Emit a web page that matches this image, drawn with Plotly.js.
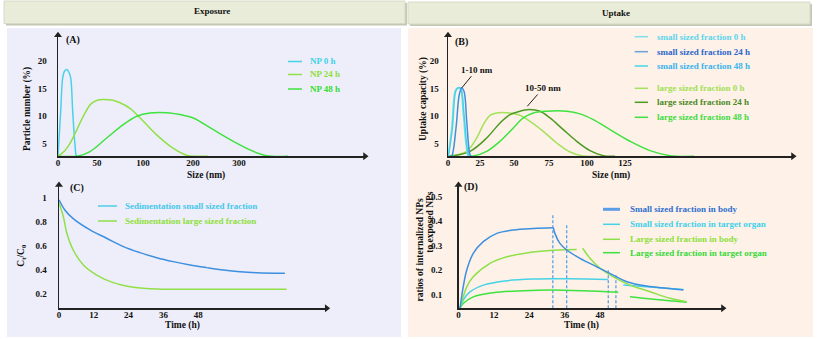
<!DOCTYPE html>
<html>
<head>
<meta charset="utf-8">
<script src="https://cdn.plot.ly/plotly-3.0.1.min.js"></script>
<style>html,body{margin:0;padding:0;background:#fff;} #chart{width:817px;height:339px;}</style>
</head>
<body>
<div id="chart"></div>
<script>
// (A) particle number vs size -- x is the position on the hand drawn size axis
var sizeTickPosA = [0, 39, 85, 135, 181];
var sizeTickTextA = ['0', '50', '100', '200', '300'];
var np0hX = [0, 0.7, 2.7, 4.7, 6.5, 8.7, 11, 12.7, 14.7, 17, 18.7, 21];
var np0hY = [2.75, 4.8, 10.9, 16.9, 18.1, 18.4, 17.9, 16.9, 10.9, 4.8, 2.75, 2.75];
var np24hX = [0, 7, 13, 19, 26, 33, 40, 45, 55, 62, 72, 82, 98.7, 115, 129, 140, 150];
var np24hY = [2.75, 3.8, 5.4, 7.6, 10.2, 12.2, 12.9, 13.0, 12.85, 12.4, 11.4, 9.7, 6.6, 4.2, 2.9, 2.75, 2.75];
var np48hX = [0, 20, 32, 48.7, 65.3, 78.7, 92, 108.7, 125.3, 135.3, 155.3, 175.3, 195.3, 208.7, 230];
var np48hY = [2.75, 2.8, 3.6, 6.05, 8.45, 9.96, 10.56, 10.6, 10.14, 9.66, 7.55, 5.45, 3.64, 2.85, 2.75];

// (B) uptake capacity vs size
var sizeTickPosB = [0, 32, 66, 101, 139, 177];
var sizeTickTextB = ['0', '25', '50', '75', '100', '125'];
var small0hX = [0, 3.7, 7, 9.3, 12, 15.3, 18, 20.3, 22];
var small0hY = [2.75, 7.85, 14.5, 15.07, 15.07, 10.3, 4.9, 2.75, 2.75];
var small24hX = [2, 3.7, 8, 11.3, 13.7, 16, 18.7, 21.3, 22.7, 24];
var small24hY = [2.75, 2.8, 7.85, 13.9, 15.07, 14.5, 9.06, 3.64, 2.75, 2.75];
var small48hX = [0.5, 4.4, 7.7, 10, 12.7, 16, 18.7, 21, 22.5];
var small48hY = [2.75, 7.85, 14.5, 15.07, 15.0, 10.3, 4.9, 2.75, 2.75];
var large0hX = [0, 18.7, 28.7, 35.3, 42, 48.7, 62, 72, 82, 95.3, 108.7, 122, 135.3, 150];
var large0hY = [2.75, 3.64, 6.05, 8.45, 10.14, 10.56, 10.56, 10.14, 9.06, 7.25, 5.14, 3.52, 2.8, 2.75];
var large24hX = [2, 22, 38.7, 52, 62, 72, 79.3, 92, 102, 115.3, 128.7, 142, 155.3, 167];
var large24hY = [2.75, 3.64, 6.05, 8.75, 10.25, 10.87, 11.16, 10.87, 9.66, 7.55, 5.45, 3.76, 2.85, 2.75];
var large48hX = [0, 25.3, 38.7, 52, 65.3, 75.3, 85.3, 98.7, 118.7, 132, 145.3, 162, 182, 202, 222, 246];
var large48hY = [2.75, 2.8, 3.64, 5.45, 7.85, 9.66, 10.56, 10.87, 10.87, 10.4, 9.36, 7.55, 5.45, 3.76, 2.85, 2.75];

// (C) sedimentation, Ct/C0 vs time (h)
var sedSmallT = [0, 2.07, 4.9, 10.7, 16.4, 22.2, 27.9, 33.7, 39.4, 45.2, 50.9, 56.7, 62.4, 68.2, 77.9];
var sedSmallC = [0.986, 0.90, 0.83, 0.736, 0.667, 0.597, 0.547, 0.505, 0.472, 0.444, 0.422, 0.402, 0.388, 0.38, 0.375];
var sedLargeT = [0, 1.5, 2.7, 4.9, 8.4, 13, 18.7, 24.5, 30.2, 36, 50, 65, 78.5];
var sedLargeC = [0.96, 0.847, 0.708, 0.569, 0.444, 0.36, 0.297, 0.263, 0.247, 0.242, 0.242, 0.242, 0.242];

// (D) ratios of internalized NPs to exposed NPs vs time (h)
var smallBodyRiseT = [0.5, 1.6, 2.8, 5, 8.4, 13, 18.6, 25.4, 32.2];
var smallBodyRiseV = [0.043, 0.131, 0.2, 0.268, 0.316, 0.35, 0.364, 0.37, 0.373];
var smallBodyDropT = [32.2, 32.7, 34.4, 36.7, 41.2, 46.9, 52.5, 57.1, 63.8, 70.6, 76.3];
var smallBodyDropV = [0.373, 0.35, 0.309, 0.282, 0.248, 0.213, 0.179, 0.152, 0.134, 0.125, 0.118];
var smallOrganRiseT = [0.5, 1.6, 3.9, 8.4, 16.4, 25.4, 34.4, 43.5, 50.8];
var smallOrganRiseV = [0.043, 0.077, 0.11, 0.138, 0.156, 0.163, 0.164, 0.163, 0.161];
var smallOrganDropT = [55.9, 66.1, 76.3];
var smallOrganDropV = [0.138, 0.129, 0.12];
var largeBodyRiseT = [0.5, 2.8, 5, 10.7, 16.4, 23.1, 29.9, 36.7, 40.1];
var largeBodyRiseV = [0.043, 0.131, 0.172, 0.227, 0.254, 0.27, 0.279, 0.283, 0.284];
var largeBodyDropT = [42.1, 44.6, 48, 52.5, 58.2, 65, 71.7, 77.4];
var largeBodyDropV = [0.289, 0.248, 0.207, 0.172, 0.138, 0.111, 0.084, 0.07];
var largeOrganRiseT = [0.5, 1.6, 5, 11.8, 22, 31, 42.3, 54.2];
var largeOrganRiseV = [0.043, 0.063, 0.09, 0.107, 0.115, 0.118, 0.115, 0.109];
var largeOrganDropT = [58.2, 66.1, 77.4];
var largeOrganDropV = [0.09, 0.08, 0.068];
var switchTimes = [32, 36.7, 50.8, 53.4];
var switchTops = [0.432, 0.391, 0.2, 0.186];

var W = 817, H = 339;
var serif = 'Liberation Serif';
var cCyan = '#47d3e6', cYellowGreen = '#90e048', cGreen = '#3fe23f', cBlue = '#3d8fe0';
var cLightCyan = '#7fe0ec', cDarkGreen = '#4f9a22', cLightGreen = '#a4e25c';

function px(x) { return x / W; }
function py(y) { return 1 - y / H; }

function xAx(ox, ppu, r, tv, tt, anchor) {
  return {
    domain: [ox / W, (ox + (r[1] - r[0]) * ppu) / W], range: r, anchor: anchor,
    showgrid: false, zeroline: false, fixedrange: true,
    showline: true, linecolor: '#222', linewidth: 1.5,
    tickmode: 'array', tickvals: tv, ticktext: tt, ticks: '', ticklabelstandoff: -3,
    tickfont: {family: serif, size: 9, color: '#111', weight: 'bold'}
  };
}
function yAx(oy, ppu, r, tv, tt, anchor, tl) {
  return {
    domain: [1 - oy / H, 1 - (oy - (r[1] - r[0]) * ppu) / H], range: r, anchor: anchor,
    showgrid: false, zeroline: false, fixedrange: true,
    showline: true, linecolor: '#222', linewidth: 1.5,
    tickmode: 'array', tickvals: tv, ticktext: tt,
    ticks: 'outside', ticklen: tl, tickcolor: 'rgba(0,0,0,0)',
    tickfont: {family: serif, size: 9, color: '#111', weight: 'bold'}
  };
}

function curve(x, y, color, xa, ya, w) {
  return {x: x, y: y, xaxis: xa, yaxis: ya, mode: 'lines', hoverinfo: 'skip',
    line: {color: color, width: w || 1.5, shape: 'spline', smoothing: 1}};
}
// arrowheads at the ends of both axes of a panel
function heads(xa, ya, xr, yr) {
  return {x: [xr[1], xr[0]], y: [yr[0], yr[1]], xaxis: xa, yaxis: ya, mode: 'markers',
    hoverinfo: 'skip', cliponaxis: false,
    marker: {symbol: ['triangle-right', 'triangle-up'], size: 7, color: '#222'}};
}

var rangeXA = [0, 307], rangeYA = [2.74, 24.6];
var rangeXB = [0, 345], rangeYB = [2.74, 24.6];
var rangeXC = [0, 92.3], rangeYC = [0.083, 1.11];
var rangeXD = [0, 89.7], rangeYD = [0.043, 0.548];

var dashX = [], dashY = [];
switchTimes.forEach(function(t, i) {
  dashX.push(t, t, null);
  dashY.push(rangeYD[0], switchTops[i], null);
});

var data = [
  curve(np0hX, np0hY, cCyan, 'x', 'y'),
  curve(np24hX, np24hY, cYellowGreen, 'x', 'y'),
  curve(np48hX, np48hY, cGreen, 'x', 'y'),

  curve(large0hX, large0hY, cLightGreen, 'x2', 'y2'),
  curve(large24hX, large24hY, cDarkGreen, 'x2', 'y2'),
  curve(large48hX, large48hY, cGreen, 'x2', 'y2'),
  curve(small0hX, small0hY, cLightCyan, 'x2', 'y2'),
  curve(small48hX, small48hY, cCyan, 'x2', 'y2'),
  curve(small24hX, small24hY, cBlue, 'x2', 'y2'),

  curve(sedSmallT, sedSmallC, cBlue, 'x3', 'y3'),
  curve(sedLargeT, sedLargeC, cYellowGreen, 'x3', 'y3'),

  {x: dashX, y: dashY, xaxis: 'x4', yaxis: 'y4', mode: 'lines', hoverinfo: 'skip',
    line: {color: '#4a9ae6', width: 1.2, dash: '3px,2px'}},
  curve(largeOrganRiseT, largeOrganRiseV, cGreen, 'x4', 'y4'),
  curve(largeOrganDropT, largeOrganDropV, cGreen, 'x4', 'y4'),
  curve(smallOrganRiseT, smallOrganRiseV, cCyan, 'x4', 'y4'),
  curve(smallOrganDropT, smallOrganDropV, cCyan, 'x4', 'y4'),
  curve(largeBodyRiseT, largeBodyRiseV, cYellowGreen, 'x4', 'y4'),
  curve(largeBodyDropT, largeBodyDropV, cYellowGreen, 'x4', 'y4'),
  curve(smallBodyRiseT, smallBodyRiseV, cBlue, 'x4', 'y4'),
  curve(smallBodyDropT, smallBodyDropV, cBlue, 'x4', 'y4'),

  heads('x', 'y', rangeXA, rangeYA),
  heads('x2', 'y2', rangeXB, rangeYB),
  heads('x3', 'y3', rangeXC, rangeYC),
  heads('x4', 'y4', rangeXD, rangeYD)
];

var shapes = [
  // panel backgrounds
  {type: 'rect', xref: 'paper', yref: 'paper', x0: px(7), x1: px(401), y0: py(337), y1: py(28), fillcolor: '#eeeefa', line: {width: 0}, layer: 'below'},
  {type: 'rect', xref: 'paper', yref: 'paper', x0: px(408), x1: px(813), y0: py(337), y1: py(28), fillcolor: '#fdf1e8', line: {width: 0}, layer: 'below'},
  // header bars with shadow
  {type: 'rect', xref: 'paper', yref: 'paper', x0: px(6), x1: px(407), y0: py(25.5), y1: py(3), fillcolor: '#c4c7b4', line: {width: 0}, layer: 'below'},
  {type: 'rect', xref: 'paper', yref: 'paper', x0: px(4), x1: px(405), y0: py(23.5), y1: py(1), fillcolor: '#e9ecd8', line: {color: '#d6d9c6', width: 1}, layer: 'below'},
  {type: 'rect', xref: 'paper', yref: 'paper', x0: px(410), x1: px(812), y0: py(26), y1: py(4), fillcolor: '#c4c7b4', line: {width: 0}, layer: 'below'},
  {type: 'rect', xref: 'paper', yref: 'paper', x0: px(408), x1: px(810), y0: py(24), y1: py(2), fillcolor: '#e9ecd8', line: {color: '#d6d9c6', width: 1}, layer: 'below'}
];

var annotations = [];
function txt(x, y, s, opts) {
  var a = {xref: 'paper', yref: 'paper', x: px(x), y: py(y), text: s, showarrow: false,
    xanchor: 'center', yanchor: 'middle',
    font: {family: serif, size: 9, color: '#111', weight: 'bold'}};
  for (var k in opts) {
    if (k === 'font') { for (var f in opts.font) a.font[f] = opts.font[f]; }
    else a[k] = opts[k];
  }
  annotations.push(a);
}
function legendRow(x0, x1, xt, y, lineColor, textColor, label, lw) {
  shapes.push({type: 'line', xref: 'paper', yref: 'paper', x0: px(x0), x1: px(x1), y0: py(y), y1: py(y),
    line: {color: lineColor, width: lw || 1.5}});
  txt(xt, y, label, {xanchor: 'left', font: {color: textColor}});
}

// headers
txt(211.7, 11, 'Exposure');
txt(616.3, 13, 'Uptake');

// panel letters
txt(73, 40, '(A)', {font: {size: 10}});
txt(461.3, 41.7, '(B)', {font: {size: 10}});
txt(76.7, 188.3, '(C)', {font: {size: 10}});
txt(471.3, 186.7, '(D)', {font: {size: 10}});

// axis titles
txt(27, 109, 'Particle number (%)', {textangle: -90, font: {size: 9.5}});
txt(423, 99, 'Uptake capacity (%)', {textangle: -90, font: {size: 9.5}});
txt(21.7, 255, 'C<sub>t</sub>/C<sub>0</sub>', {textangle: -90, font: {size: 9.5}});
txt(419.5, 250, 'ratios of internalized NPs', {textangle: -90, font: {size: 9.5}});
txt(430, 221.7, 'to exposed NPs', {textangle: -90, font: {size: 9.5}});
txt(206, 175.5, 'Size (nm)', {font: {size: 9.5}});
txt(611, 175.5, 'Size (nm)', {font: {size: 9.5}});
txt(182.5, 325.5, 'Time (h)', {font: {size: 9.5}});
txt(581.5, 325.5, 'Time (h)', {font: {size: 9.5}});

// size range callouts in (B)
annotations.push({xref: 'x2', yref: 'y2', x: 13.7, y: 15.07, ax: 15, ay: -18.3, text: '1-10 nm',
  showarrow: true, arrowhead: 0, arrowwidth: 1, arrowcolor: '#222', standoff: 0,
  font: {family: serif, size: 9, color: '#111', weight: 'bold'}});
annotations.push({xref: 'x2', yref: 'y2', x: 79.3, y: 11.77, ax: 16, ay: -18.3, text: '10-50 nm',
  showarrow: true, arrowhead: 0, arrowwidth: 1, arrowcolor: '#222', standoff: 0,
  font: {family: serif, size: 9, color: '#111', weight: 'bold'}});

// legends
legendRow(288, 302, 308, 61.5, cCyan, '#3fd3e6', 'NP 0 h');
legendRow(288, 302, 308, 74.5, cYellowGreen, '#8ee03a', 'NP 24 h');
legendRow(288, 302, 308, 89, cGreen, '#33dd33', 'NP 48 h');

legendRow(634.7, 648, 654.7, 36.7, cLightCyan, '#5fd5ec', 'small sized fraction 0 h');
legendRow(634.7, 648, 654.7, 51.7, '#6fa0dc', '#2e66cc', 'small sized fraction 24 h');
legendRow(634.7, 648, 654.7, 66, cCyan, '#3ab4ee', 'small sized fraction 48 h');
legendRow(634.7, 648, 654.7, 88.3, cLightGreen, '#a2e056', 'large sized fraction 0 h');
legendRow(634.7, 648, 654.7, 102.3, cDarkGreen, '#4a8a1e', 'large sized fraction 24 h');
legendRow(634.7, 648, 654.7, 117.3, cGreen, '#40dc40', 'large sized fraction 48 h');

legendRow(98, 117, 123.3, 206, '#4fcdea', '#45c8ea', 'Sedimentation small sized fraction');
legendRow(98, 117, 123.3, 221, cYellowGreen, '#8ee03a', 'Sedimentation large sized fraction');

legendRow(603, 620, 628, 209.3, '#5a9ee6', '#2e6fd0', 'Small sized fraction in body', 3);
legendRow(603, 620, 628, 224.3, cCyan, '#3fd0ea', 'Small sized fraction in target organ');
legendRow(603, 620, 628, 239.3, cYellowGreen, '#8ee03a', 'Large sized fraction in body');
legendRow(603, 620, 628, 252.7, cGreen, '#36d936', 'Large sized fraction in target organ');

var layout = {
  width: W, height: H,
  margin: {l: 0, r: 0, t: 0, b: 0},
  paper_bgcolor: '#ffffff', plot_bgcolor: 'rgba(0,0,0,0)',
  showlegend: false,
  xaxis: xAx(58, 1, rangeXA, sizeTickPosA, sizeTickTextA, 'y'),
  yaxis: yAx(156.3, 5.54, rangeYA, [5, 10, 15, 20], ['5', '10', '15', '20'], 'x', 8),
  xaxis2: xAx(448, 1, rangeXB, sizeTickPosB, sizeTickTextB, 'y2'),
  yaxis2: yAx(156.3, 5.54, rangeYB, [5, 10, 15, 20], ['5', '10', '15', '20'], 'x2', 6),
  xaxis3: xAx(59, 2.9, rangeXC, [0, 12, 24, 36, 48], ['0', '12', '24', '36', '48'], 'y3'),
  yaxis3: yAx(308.3, 120, rangeYC, [0.2, 0.4, 0.6, 0.8, 1], ['0.2', '0.4', '0.6', '0.8', '1'], 'x3', 9),
  xaxis4: xAx(458.5, 2.948, rangeXD, [0, 12, 24, 36, 48], ['0', '12', '24', '36', '48'], 'y4'),
  yaxis4: yAx(308.3, 244, rangeYD, [0.1, 0.2, 0.3, 0.4, 0.5], ['0.1', '0.2', '0.3', '0.4', '0.5'], 'x4', 13),
  shapes: shapes,
  annotations: annotations
};

Plotly.newPlot('chart', data, layout, {displayModeBar: false, staticPlot: true});
</script>
</body>
</html>
